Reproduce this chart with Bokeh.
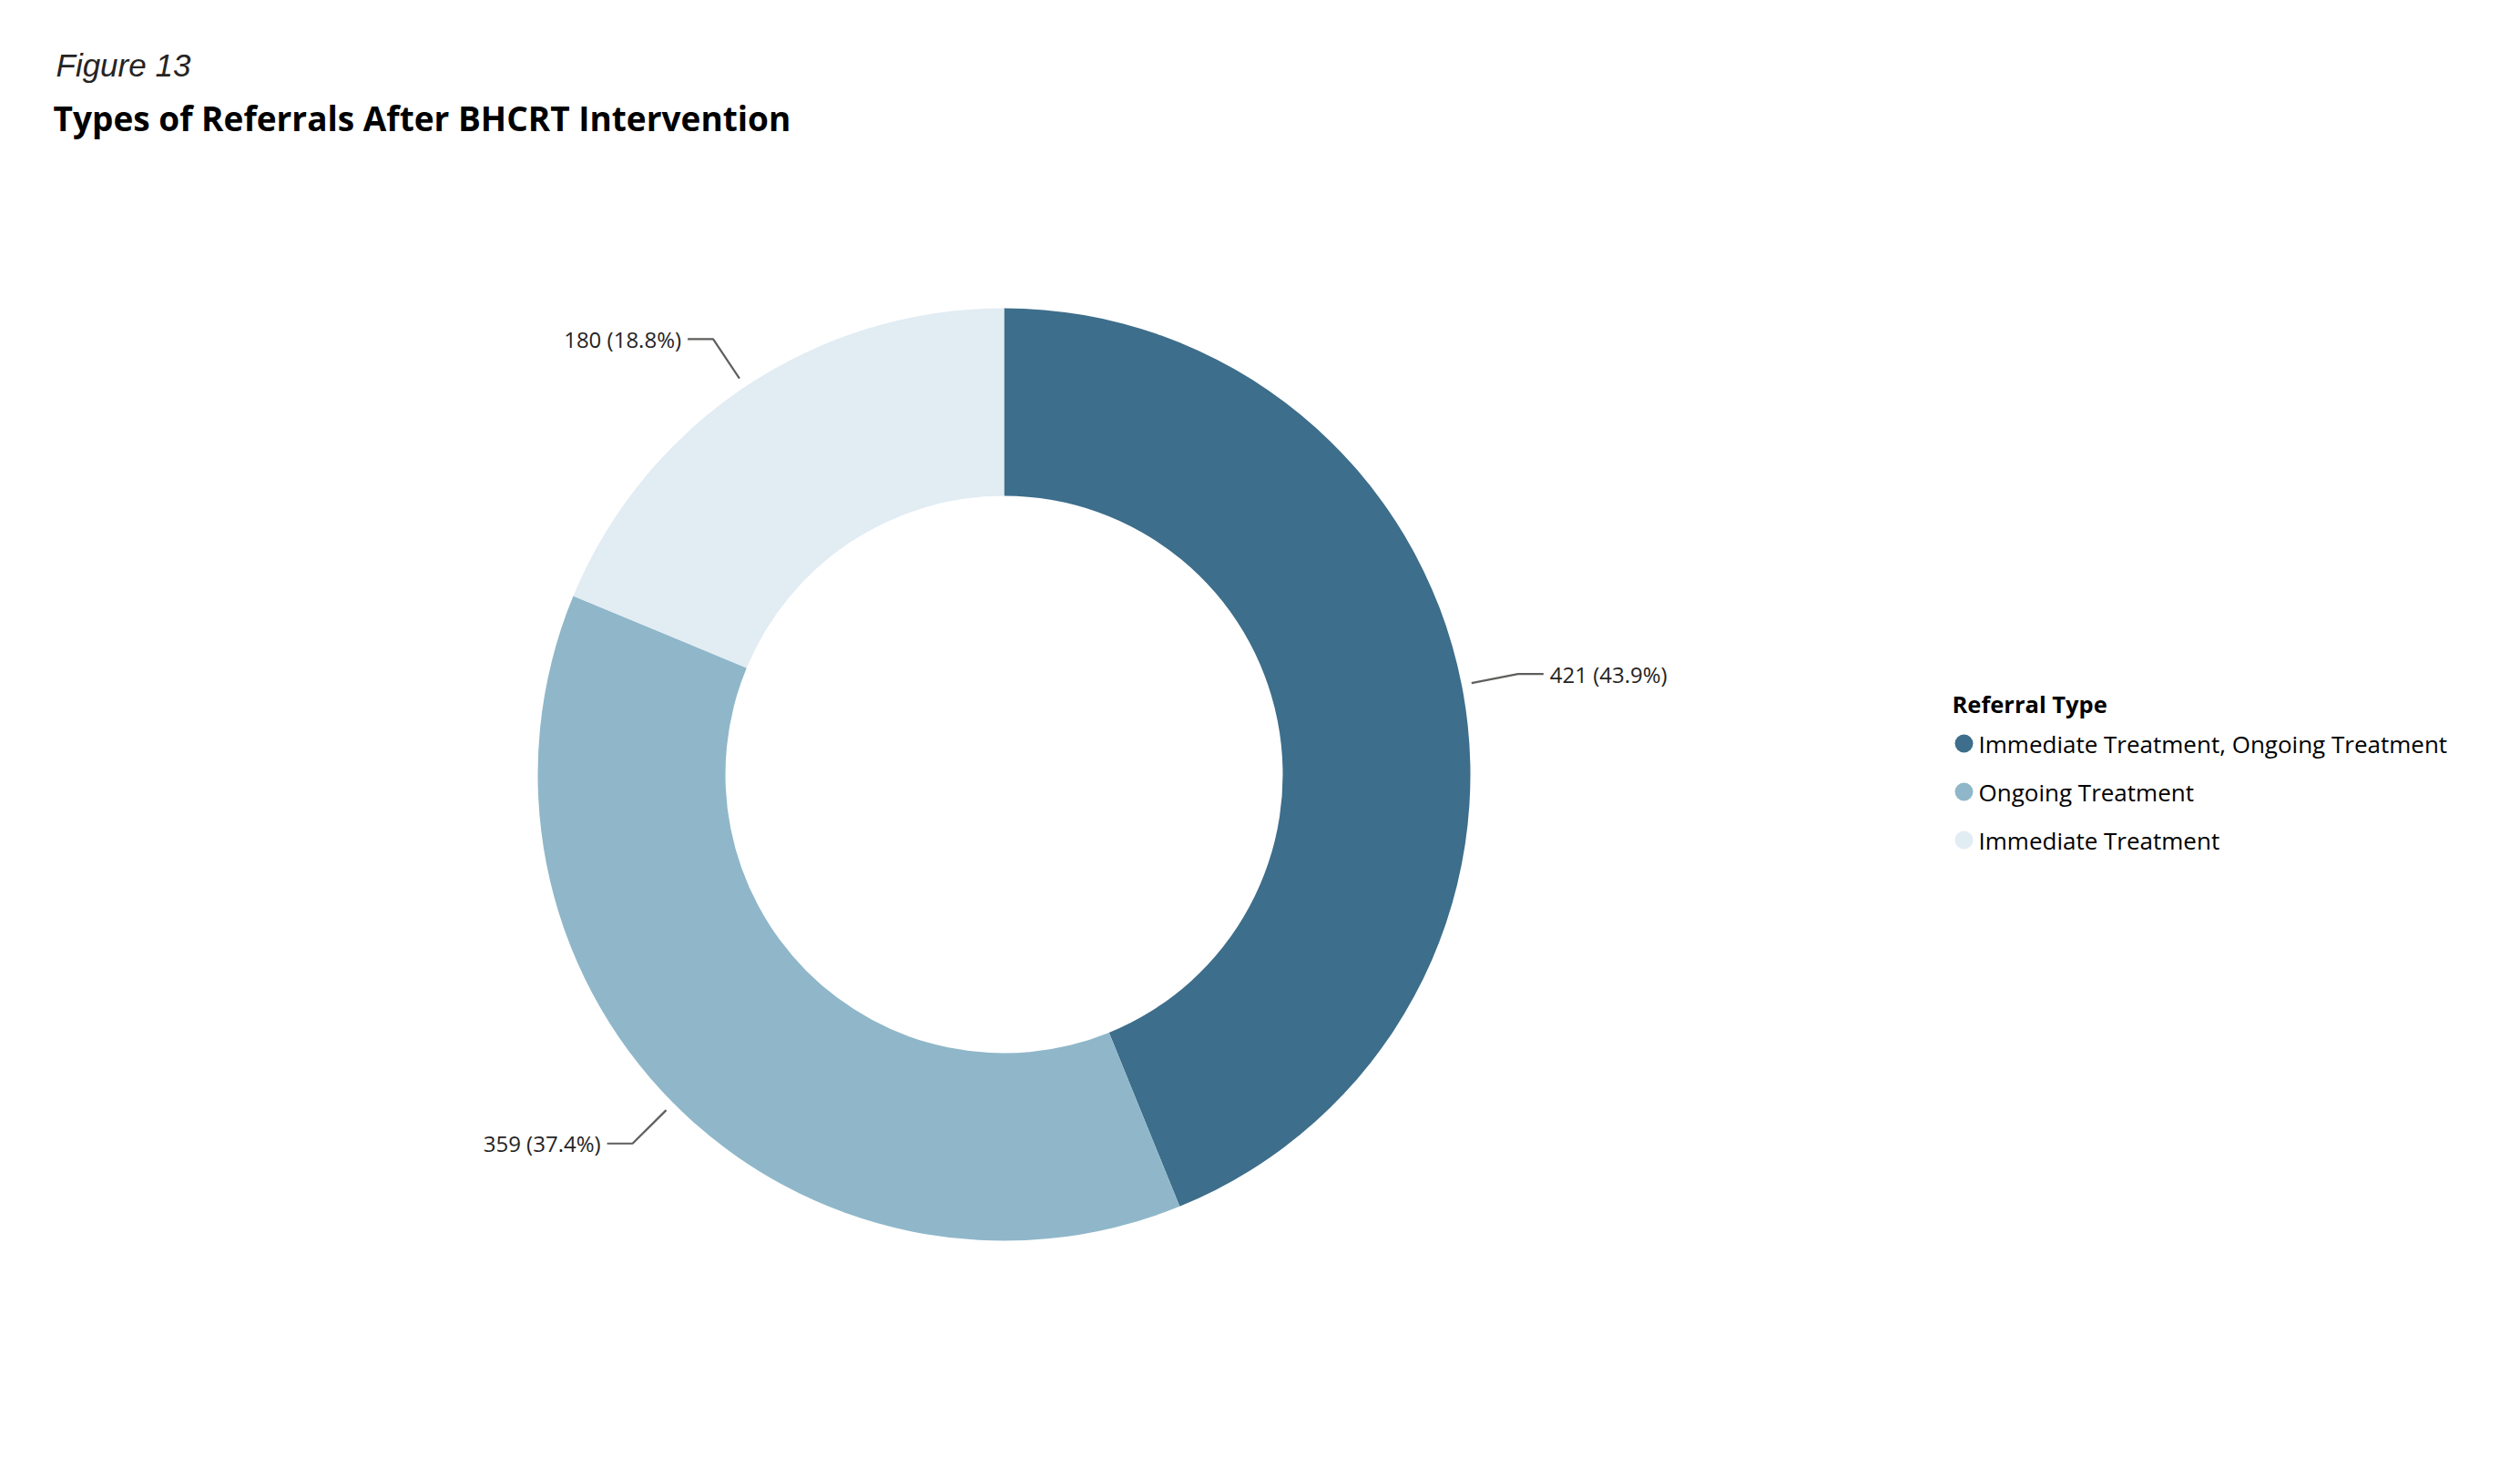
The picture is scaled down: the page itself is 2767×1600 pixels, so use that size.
import math

from bokeh.core.properties import value
from bokeh.embed import file_html
from bokeh.models import ColumnDataSource, Range1d
from bokeh.plotting import figure
from bokeh.resources import INLINE

# Referral counts after BHCRT intervention
categories = ["Immediate Treatment, Ongoing Treatment", "Ongoing Treatment", "Immediate Treatment"]
counts = [421, 359, 180]
colors = ["#3D6E8B", "#8FB7C9", "#E1ECF3"]

fig_label = "Figure 13"
title_text = "Types of Referrals After BHCRT Intervention"
legend_title = "Referral Type"

W, H = 2767, 1600
CX, CY = 1102, H - 850          # donut centre (y measured from bottom)
R_OUT, R_IN = 512, 306
LEAD_R1, LEAD_R2, LEAD_H, LEAD_GAP = 523, 575, 28, 7

p = figure(width=W, height=H, x_range=Range1d(0, W), y_range=Range1d(0, H),
           output_backend="svg", toolbar_location=None, min_border=0)
p.axis.visible = False
p.grid.visible = False
p.outline_line_color = None
p.background_fill_color = "white"
p.border_fill_color = "white"

total = sum(counts)
starts, ends, mids = [], [], []
acc = 0
for c in counts:
    starts.append(math.pi / 2 - 2 * math.pi * acc / total)
    mids.append(math.pi / 2 - 2 * math.pi * (acc + c / 2) / total)
    acc += c
    ends.append(math.pi / 2 - 2 * math.pi * acc / total)

src = ColumnDataSource(dict(x=[CX] * 3, y=[CY] * 3, start=starts, end=ends, color=colors))
p.annular_wedge(x="x", y="y", inner_radius=R_IN, outer_radius=R_OUT,
                start_angle="start", end_angle="end", direction="clock",
                fill_color="color", line_color=None, source=src)

# Leader lines and data labels
lx, ly, tx, ty, tt, ta = [], [], [], [], [], []
for c, m in zip(counts, mids):
    cs, sn = math.cos(m), math.sin(m)
    side = 1 if cs >= 0 else -1
    x1, y1 = CX + LEAD_R1 * cs, CY + LEAD_R1 * sn
    x2, y2 = CX + LEAD_R2 * cs, CY + LEAD_R2 * sn
    x3 = x2 + side * LEAD_H
    lx.append([x1, x2, x3])
    ly.append([y1, y2, y2])
    tx.append(x3 + side * LEAD_GAP)
    ty.append(y2)
    tt.append(f"{c} ({100 * c / total:.1f}%)")
    ta.append("left" if side > 0 else "right")

p.multi_line(xs=lx, ys=ly, line_color="#605E5C", line_width=2.2)
p.text(x=tx, y=ty, text=tt, text_align=ta, text_baseline="middle",
       text_font=value("Open Sans"), text_font_size="24px", text_color="#252423")

# Headings
p.text(x=[61], y=[H - 71], text=[fig_label], text_baseline="middle",
       text_font=value("Liberation Sans"), text_font_style="italic",
       text_font_size="35px", text_color="#252423")
p.text(x=[58], y=[H - 129], text=[title_text], text_baseline="middle",
       text_font=value("Open Sans"), text_font_style="bold",
       text_font_size="37px", text_color="#000000")

# Legend
LEG_X, LEG_TITLE_Y, LEG_Y0, LEG_STEP = 2143, H - 772, H - 816, 53
p.text(x=[LEG_X], y=[LEG_TITLE_Y], text=[legend_title], text_baseline="middle",
       text_font=value("Open Sans"), text_font_style="bold",
       text_font_size="25.5px", text_color="#000000")
leg_y = [LEG_Y0 - i * LEG_STEP for i in range(len(categories))]
p.scatter(x=[LEG_X + 13] * len(categories), y=leg_y, size=20, marker="circle",
          fill_color=colors, line_color=None)
p.text(x=[LEG_X + 29] * len(categories), y=leg_y, text=categories,
       text_baseline="middle", text_font=value("Open Sans"),
       text_font_size="26px", text_color="#000000")

open("out.html", "w").write(file_html(p, INLINE))
